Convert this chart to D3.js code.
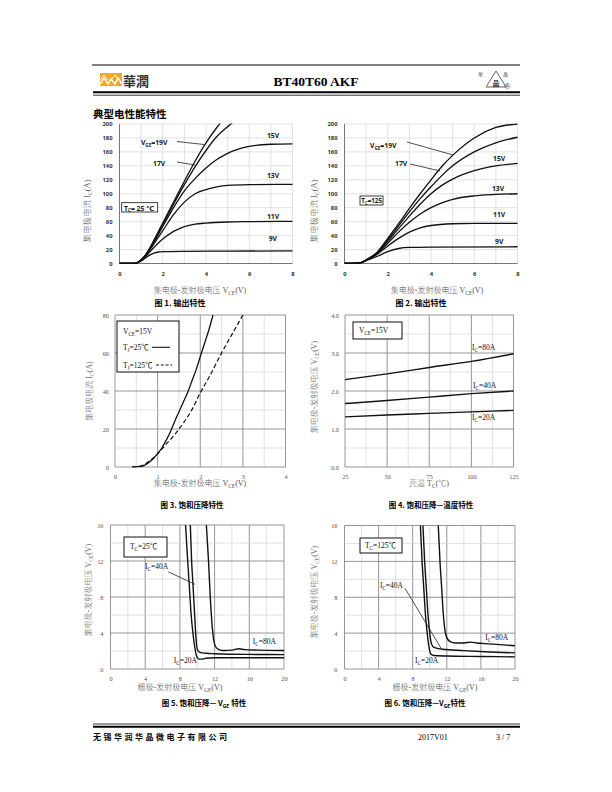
<!DOCTYPE html>
<html><head><meta charset="utf-8">
<script src="https://cdn.jsdelivr.net/npm/d3@7/dist/d3.min.js"></script>
<style>body{margin:0;background:#fff}svg{display:block}</style>
</head><body>
<svg id="page" width="612" height="792"></svg>
<script>
// ---------------- DATA ----------------
// Fig 1: output characteristics, Tc=25C  [VCE (V), IC (A)]
const fig1Names = ["9V","11V","13V","15V","17V","19V"];
const fig1_9V  = [[0,0],[0.6,0],[0.8,0.8],[1,3.5],[1.2,8],[1.4,12],[1.6,15],[1.8,16.5],[2,17],[3,17.5],[5,17.8],[8,18]];
const fig1_11V = [[0,0],[0.6,0],[0.8,1],[1,4.5],[1.2,10],[1.5,20],[2,35],[2.5,46],[3,53],[3.5,56.5],[4,58],[5,59.5],[6,60],[8,60.5]];
const fig1_13V = [[0,0],[0.6,0],[0.8,1],[1,5],[1.2,11],[1.5,24],[2,47],[2.5,70],[3,88],[3.5,100],[4,106],[4.5,110],[5,112],[6,113],[8,113.5]];
const fig1_15V = [[0,0],[0.6,0],[0.8,1],[1,5],[1.2,12],[1.5,26],[2,53],[2.5,80],[3,104],[3.5,122],[4,137],[4.5,149],[5,158],[6,168],[7,171],[8,171.5]];
const fig1_17V = [[0,0],[0.6,0],[0.8,1],[1,5],[1.2,12],[1.5,27],[2,56],[2.5,85],[3,113],[3.5,139],[4,162],[4.5,182],[5,196],[5.3,204]];
const fig1_19V = [[0,0],[0.6,0],[0.8,1],[1,5],[1.2,12],[1.5,28],[2,58],[2.5,88],[3,118],[3.5,147],[4,173],[4.5,195],[4.7,203]];
// Fig 2: output characteristics, Tc=125C
const fig2Names = ["9V","11V","13V","15V","17V","19V"];
const fig2_9V  = [[0,0],[0.6,0.5],[0.8,1.5],[1,4],[1.5,10],[2,17],[2.5,21.5],[3,23],[4,23.5],[8,24]];
const fig2_11V = [[0,0],[0.6,0.5],[0.8,1.5],[1,4.5],[1.5,13],[2,25],[2.5,36],[3,45],[3.5,51],[4,54.5],[5,57],[6,57.5],[8,57.5]];
const fig2_13V = [[0,0],[0.6,0.5],[0.8,1.5],[1,5],[1.5,14],[2,29],[2.5,45],[3,59],[3.5,71],[4,80],[4.5,87],[5,92],[6,97],[7,99],[8,100]];
const fig2_15V = [[0,0],[0.6,0.5],[0.8,1.5],[1,5],[1.5,15],[2,32],[2.5,50],[3,68],[3.5,85],[4,100],[4.5,112],[5,121],[6,133],[7,140],[8,143.5]];
const fig2_17V = [[0,0],[0.6,0.5],[0.8,1.5],[1,5],[1.5,15.5],[2,34],[2.5,54],[3,74],[3.5,93],[4,110],[4.5,126],[5,140],[6,160],[7,173],[8,181]];
const fig2_19V = [[0,0],[0.6,0.5],[0.8,1.5],[1,5],[1.5,16],[2,36],[2.5,57],[3,79],[3.5,100],[4,120],[4.5,139],[5,155],[6,180],[7,195],[8,200]];
// Fig 3: saturation characteristics, VGE=15V  [VCE, IC]
const fig3_25C  = [[0.4,0],[0.6,0.3],[0.7,1],[0.8,2.5],[0.9,4.5],[1.0,7],[1.1,10],[1.2,14],[1.3,18.5],[1.4,24],[1.5,29],[1.6,34],[1.7,39],[1.8,45],[1.9,51],[2.0,58],[2.1,65],[2.2,72],[2.3,80]];
const fig3_125C = [[0.4,0],[0.6,0.5],[0.8,3],[1.0,7],[1.2,12],[1.4,17],[1.5,20],[1.6,23],[1.8,30],[2.0,39],[2.2,47],[2.5,60],[2.8,72],[3.0,80]];
// Fig 4: VCE(sat) vs case temperature  [Tc, VCE]
const fig4Temps = [25,50,75,100,125];
const fig4_80A = [2.30,2.45,2.62,2.78,2.98];
const fig4_40A = [1.67,1.75,1.84,1.93,2.00];
const fig4_20A = [1.32,1.37,1.41,1.45,1.49];
// Fig 5: VCE vs VGE, Tc=25C  [VGE, VCE]
const fig5_20A = [[8.65,16],[8.9,12],[9.1,9],[9.3,6],[9.5,4],[9.7,2.5],[9.9,1.5],[10.2,1.1],[10.6,1.1],[11,1.2],[12,1.25],[20,1.25]];
const fig5_40A = [[9.2,16],[9.35,12],[9.5,9.5],[9.7,6],[9.85,3.5],[10,2.2],[10.3,1.85],[11,1.75],[12,1.7],[16,1.62],[20,1.6]];
const fig5_80A = [[11.05,16],[11.3,12],[11.5,8],[11.7,5],[11.9,3.2],[12.1,2.5],[12.5,2.15],[13,2.05],[14,2.1],[14.8,2.25],[15.5,2.15],[17,2.1],[20,2.05]];
// Fig 6: VCE vs VGE, Tc=125C
const fig6_20A = [[8.9,16],[9.1,12],[9.3,9],[9.5,6],[9.7,4],[9.9,2.5],[10.1,1.7],[10.5,1.5],[12,1.45],[16,1.4],[20,1.35]];
const fig6_40A = [[9.2,16],[9.4,12],[9.6,9],[9.8,6],[10,4],[10.2,2.8],[10.5,2.4],[11.5,2.2],[14,2.05],[17,1.9],[20,1.8]];
const fig6_80A = [[11.0,16],[11.2,12],[11.4,9],[11.6,6],[11.8,4.2],[12.0,3.5],[12.4,3.05],[13,2.9],[14,2.9],[14.8,3.0],[15.5,2.9],[17,2.8],[20,2.6]];
// tick labels
const ticksOutX = [0,2,4,6,8];
const ticksOutY = [0,20,40,60,80,100,120,140,160,180,200];
const ticksF3X = [0,1,2,3,4];
const ticksF3Y = [0,20,40,60,80];
const ticksF4X = [25,50,75,100,125];
const ticksF4Y = [0,1,2,3,4];
const ticksF56X = [0,4,8,12,16,20];
const ticksF56Y = [0,4,8,12,16];

// ---------------- HELPERS ----------------
const svg = d3.select("#page");
const SERIF = "'Liberation Serif','Times New Roman','Noto Sans CJK SC',serif";
const SANS = "'Open Sans','DejaVu Sans','Noto Sans CJK SC',sans-serif";
const CJK = "'Noto Sans CJK SC',sans-serif";

function rich(parent, x, y, str, o) {
  o = o || {};
  const fs = o.size || 8;
  const t = parent.append("text").attr("x", x).attr("y", y)
    .attr("font-size", fs).attr("font-family", o.family || SERIF)
    .attr("fill", o.fill || "#000").attr("font-weight", o.weight || "normal")
    .attr("text-anchor", o.anchor || "start");
  if (o.rotate) t.attr("transform", `rotate(${o.rotate},${x},${y})`);
  const parts = str.split(/(_\{[^}]*\})/).filter(p => p);
  let prevSub = false;
  parts.forEach(p => {
    if (p.startsWith("_{")) {
      t.append("tspan").attr("font-size", fs * 0.68).attr("dy", fs * 0.28).text(p.slice(2, -1));
      prevSub = true;
    } else {
      const ts = t.append("tspan").text(p);
      if (prevSub) ts.attr("dy", -fs * 0.28);
      prevSub = false;
    }
  });
  return t;
}

let clipId = 0;
function makeChart(o) {
  const g = svg.append("g");
  const x = d3.scaleLinear().domain(o.xd).range(o.xr);
  const y = d3.scaleLinear().domain(o.yd).range(o.yr);
  const eps = 1e-6;
  const isMaj = (v, step, base) => Math.abs(((v - base) / step) - Math.round((v - base) / step)) < 1e-4;
  d3.range(o.xd[0], o.xd[1] + eps, o.xMinor).forEach(v => {
    const maj = isMaj(v, o.xMajor, o.xd[0]);
    g.append("line").attr("x1", x(v)).attr("x2", x(v)).attr("y1", y(o.yd[0])).attr("y2", y(o.yd[1]))
      .attr("stroke", maj ? o.majColor : o.minColor).attr("stroke-width", maj ? o.majW : o.minW);
  });
  d3.range(o.yd[0], o.yd[1] + eps, o.yMinor).forEach(v => {
    const maj = isMaj(v, o.yMajor, o.yd[0]);
    g.append("line").attr("y1", y(v)).attr("y2", y(v)).attr("x1", x(o.xd[0])).attr("x2", x(o.xd[1]))
      .attr("stroke", maj ? o.majColor : o.minColor).attr("stroke-width", maj ? o.majW : o.minW);
  });
  if (o.axisColor) {
    g.append("line").attr("x1", x(o.xd[0])).attr("x2", x(o.xd[0])).attr("y1", y(o.yd[0])).attr("y2", y(o.yd[1]))
      .attr("stroke", o.axisColor).attr("stroke-width", 1);
    g.append("line").attr("x1", x(o.xd[0])).attr("x2", x(o.xd[1])).attr("y1", y(o.yd[0])).attr("y2", y(o.yd[0]))
      .attr("stroke", o.axisColor).attr("stroke-width", 1);
  }
  const ax = g.append("g").attr("transform", `translate(0,${y(o.yd[0])})`)
    .call(d3.axisBottom(x).tickValues(o.xTicks).tickSize(0).tickPadding(o.xPad).tickFormat(o.xFmt || d3.format("d")));
  const ay = g.append("g").attr("transform", `translate(${x(o.xd[0])},0)`)
    .call(d3.axisLeft(y).tickValues(o.yTicks).tickSize(0).tickPadding(o.yPad).tickFormat(o.yFmt || d3.format("d")));
  [ax, ay].forEach(a => {
    a.select(".domain").remove();
    a.selectAll("text").attr("font-family", o.tickFamily).attr("font-size", o.tickSize)
      .attr("font-weight", o.tickWeight || "normal").attr("fill", o.tickColor);
  });
  const id = "clip" + (clipId++);
  g.append("clipPath").attr("id", id).append("rect")
    .attr("x", x(o.xd[0])).attr("y", y(o.yd[1]) - 0.5)
    .attr("width", x(o.xd[1]) - x(o.xd[0]) + 1).attr("height", y(o.yd[0]) - y(o.yd[1]) + 1);
  const plot = g.append("g").attr("clip-path", `url(#${id})`);
  return { g, x, y, plot };
}

function drawCurve(c, data, w, dash) {
  const line = d3.line().x(d => c.x(d[0])).y(d => c.y(d[1])).curve(d3.curveMonotoneX);
  c.plot.append("path").datum(data).attr("d", line).attr("fill", "none")
    .attr("stroke", "#111").attr("stroke-width", w).attr("stroke-dasharray", dash || null)
    .attr("stroke-linejoin", "round");
}
function leader(c, a, b) {
  c.g.append("line").attr("x1", c.x(a[0])).attr("y1", c.y(a[1])).attr("x2", c.x(b[0])).attr("y2", c.y(b[1]))
    .attr("stroke", "#222").attr("stroke-width", 0.8);
}
function box(g, x0, y0, x1, y1, w) {
  g.append("rect").attr("x", x0).attr("y", y0).attr("width", x1 - x0).attr("height", y1 - y0)
    .attr("fill", "#fff").attr("stroke", "#111").attr("stroke-width", w || 1);
}
const titleOpt = (extra) => Object.assign({ size: 8, anchor: "middle", fill: "#666", weight: 300 }, extra || {});

// ---------------- HEADER ----------------
svg.append("line").attr("x1", 92).attr("x2", 520).attr("y1", 65).attr("y2", 65).attr("stroke", "#000").attr("stroke-width", 1);
svg.append("line").attr("x1", 93).attr("x2", 520).attr("y1", 92.3).attr("y2", 92.3).attr("stroke", "#000").attr("stroke-width", 2);
svg.append("line").attr("x1", 93).attr("x2", 520).attr("y1", 95.2).attr("y2", 95.2).attr("stroke", "#000").attr("stroke-width", 0.8);
const logo = svg.append("g");
logo.append("rect").attr("x", 100).attr("y", 73).attr("width", 22).attr("height", 13).attr("fill", "#f5a623");
logo.append("path").attr("d", "M100,84 L104,78 L108,84 L111,79 L115,84 L118,78 L122,84")
  .attr("fill", "none").attr("stroke", "#fff").attr("stroke-width", 1.4);
logo.append("path").attr("d", "M100,80 L104,75 L108,80 M111,80 L115,75 L119,80")
  .attr("fill", "none").attr("stroke", "#fff").attr("stroke-width", 1);
logo.append("text").attr("x", 123).attr("y", 86).attr("font-size", 13).attr("font-family", "'Noto Sans CJK TC',sans-serif")
  .attr("font-weight", "bold").attr("fill", "#333").text("華潤");
svg.append("text").attr("x", 316).attr("y", 86).attr("text-anchor", "middle").attr("font-family", SERIF)
  .attr("font-weight", "bold").attr("font-size", 13.5).text("BT40T60 AKF");
const rl = svg.append("g");
rl.append("path").attr("d", "M486,87 L496,71 L506,87 Z").attr("fill", "none").attr("stroke", "#555").attr("stroke-width", 0.9);
rl.append("text").attr("x", 496).attr("y", 85.5).attr("text-anchor", "middle").attr("font-size", 7)
  .attr("font-family", CJK).attr("font-weight", "bold").attr("fill", "#444").text("晶");
rl.append("text").attr("x", 478).attr("y", 76).attr("font-size", 5).attr("font-family", CJK).attr("fill", "#555").text("華");
rl.append("text").attr("x", 503).attr("y", 76).attr("font-size", 5).attr("font-family", CJK).attr("fill", "#555").text("晶");
rl.append("text").attr("x", 504).attr("y", 89).attr("font-size", 9).attr("font-family", SERIF).attr("fill", "#333").text("®");
svg.append("text").attr("x", 93).attr("y", 117.5).attr("font-size", 10.5).attr("font-family", CJK).attr("font-weight", "bold").text("典型电性能特性");

// ---------------- FIG 1 & 2 ----------------
const outStyle = {
  xMinor: 1, xMajor: 1, yMinor: 20, yMajor: 20, majColor: "#d9d9d9", minColor: "#d9d9d9", majW: 0.8, minW: 0.8,
  axisColor: "#777", xTicks: ticksOutX, yTicks: ticksOutY, xPad: 8, yPad: 7,
  tickFamily: SANS, tickSize: 5.8, tickWeight: "bold", tickColor: "#333"
};
function outChart(xr, curves) {
  const c = makeChart(Object.assign({ xd: [0, 8], xr: xr, yd: [0, 200], yr: [263.5, 124] }, outStyle));
  curves.forEach(d => drawCurve(c, d, 1.3));
  return c;
}
const lblOpt = { size: 6.8, family: SANS, weight: "bold", fill: "#222" };
// fig 1
const c1 = outChart([119.5, 292.5], [fig1_9V, fig1_11V, fig1_13V, fig1_15V, fig1_17V, fig1_19V]);
rich(c1.g, c1.x(0.99), c1.y(170), "V_{GE}=19V", lblOpt);
leader(c1, [2.66, 174.9], [3.91, 170.6]);
rich(c1.g, c1.x(1.55), c1.y(139.8), fig1Names[4], lblOpt);
leader(c1, [2.66, 145.5], [3.49, 141.2]);
rich(c1.g, c1.x(6.82), c1.y(180), fig1Names[3], lblOpt);
rich(c1.g, c1.x(6.82), c1.y(122.6), fig1Names[2], lblOpt);
rich(c1.g, c1.x(6.82), c1.y(63.8), fig1Names[1], lblOpt);
rich(c1.g, c1.x(6.9), c1.y(32.3), fig1Names[0], lblOpt);
box(c1.g, 121.7, 202.7, 157.7, 212, 0.8);
rich(c1.g, 124, 210.5, "T_{C}= 25 ℃", { size: 6.8, family: SANS, weight: "bold", fill: "#222" });
rich(svg, 200, 293, "集电极-发射极电压 V_{CE}(V)", titleOpt({ fill: "#555" }));
rich(svg, 90, 211, "集电极电流 I_{C}(A)", titleOpt({ size: 8.5, rotate: -90 }));
svg.append("text").attr("x", 180).attr("y", 306).attr("text-anchor", "middle").attr("font-size", 8)
  .attr("font-family", CJK).attr("font-weight", "bold").text("图 1. 输出特性");
// fig 2
const c2 = outChart([344.5, 517.5], [fig2_9V, fig2_11V, fig2_13V, fig2_15V, fig2_17V, fig2_19V]);
rich(c2.g, c2.x(1.18), c2.y(165.6), "V_{GE}=19V", lblOpt);
leader(c2, [2.89, 174.2], [5.02, 155.6]);
rich(c2.g, c2.x(2.34), c2.y(139.8), fig2Names[4], lblOpt);
leader(c2, [3.03, 142.7], [4.42, 132.6]);
rich(c2.g, c2.x(6.87), c2.y(147), fig2Names[3], lblOpt);
rich(c2.g, c2.x(6.82), c2.y(104), fig2Names[2], lblOpt);
rich(c2.g, c2.x(6.87), c2.y(66.7), fig2Names[1], lblOpt);
rich(c2.g, c2.x(6.96), c2.y(28), fig2Names[0], lblOpt);
box(c2.g, 360, 196, 383, 205, 0.8);
rich(c2.g, 361.3, 203.3, "T_{C}=125", { size: 6.3, family: SANS, weight: "bold", fill: "#222" });
rich(svg, 437, 293, "集电极-发射极电压 V_{CE}(V)", titleOpt({ fill: "#555" }));
rich(svg, 317, 211, "集电极电流 I_{C}(A)", titleOpt({ size: 8.5, rotate: -90 }));
svg.append("text").attr("x", 421).attr("y", 306).attr("text-anchor", "middle").attr("font-size", 8)
  .attr("font-family", CJK).attr("font-weight", "bold").text("图 2. 输出特性");

// ---------------- FIG 3-6 ----------------
const gridStyle = { majColor: "#8a8a8a", minColor: "#d4d4d4", majW: 0.9, minW: 0.7, tickFamily: SERIF, tickSize: 6.3, tickColor: "#555" };

// fig 3
const c3 = makeChart(Object.assign({ xd: [0, 4], xr: [115, 285.5], yd: [0, 80], yr: [467, 315],
  xMinor: 0.5, xMajor: 1, yMinor: 10, yMajor: 20, xTicks: ticksF3X, yTicks: ticksF3Y, xPad: 8, yPad: 6 }, gridStyle));
drawCurve(c3, fig3_25C, 1.3);
drawCurve(c3, fig3_125C, 1.2, "4.5,2.5");
box(c3.g, 117, 321, 179, 372, 1);
rich(c3.g, 123, 334, "V_{CE}=15V", { size: 7.5, fill: "#111" });
rich(c3.g, 123, 350, "T_{J}=25℃", { size: 7.5, fill: "#111" });
c3.g.append("line").attr("x1", 152).attr("x2", 170).attr("y1", 347.3).attr("y2", 347.3).attr("stroke", "#111").attr("stroke-width", 1.1);
rich(c3.g, 123, 367.5, "T_{J}=125℃", { size: 7.5, fill: "#111" });
c3.g.append("line").attr("x1", 156).attr("x2", 172).attr("y1", 365).attr("y2", 365).attr("stroke", "#111").attr("stroke-width", 1.1).attr("stroke-dasharray", "3,1.8");
rich(svg, 200, 486, "集电极-发射极电压 V_{CE}(V)", titleOpt({ fill: "#555" }));
rich(svg, 92, 391, "集电极电流 I_{C}(A)", titleOpt({ rotate: -90 }));
svg.append("text").attr("x", 192).attr("y", 508).attr("text-anchor", "middle").attr("font-size", 7.5)
  .attr("font-family", CJK).attr("font-weight", "bold").text("图 3. 饱和压降特性");

// fig 4
const c4 = makeChart(Object.assign({ xd: [25, 125], xr: [345, 513.5], yd: [0, 4], yr: [467, 315],
  xMinor: 12.5, xMajor: 25, yMinor: 0.5, yMajor: 1, xTicks: ticksF4X, yTicks: ticksF4Y, xPad: 8, yPad: 6,
  yFmt: d3.format(".1f") }, gridStyle));
[fig4_80A, fig4_40A, fig4_20A].forEach(s => drawCurve(c4, fig4Temps.map((t, i) => [t, s[i]]), 1.4));
box(c4.g, 353, 322, 402, 339, 1);
rich(c4.g, 359, 333, "V_{CE}=15V", { size: 7.5, fill: "#111" });
rich(c4.g, c4.x(100.4), c4.y(3.08), "I_{C}=80A", { size: 7.5, fill: "#111" });
rich(c4.g, c4.x(101), c4.y(2.08), "I_{C}=40A", { size: 7.5, fill: "#111" });
rich(c4.g, c4.x(100.4), c4.y(1.24), "I_{C}=20A", { size: 7.5, fill: "#111" });
rich(svg, 429, 486, "壳温 T_{C}(℃)", titleOpt({ fill: "#555" }));
rich(svg, 317, 387, "集电极-发射极电压 V_{CE}(V)", titleOpt({ rotate: -90 }));
svg.append("text").attr("x", 431).attr("y", 508).attr("text-anchor", "middle").attr("font-size", 7.5)
  .attr("font-family", CJK).attr("font-weight", "bold").text("图 4. 饱和压降—温度特性");

// fig 5
const c5 = makeChart(Object.assign({ xd: [0, 20], xr: [110.5, 284], yd: [0, 16], yr: [669, 525],
  xMinor: 2, xMajor: 4, yMinor: 2, yMajor: 4, xTicks: ticksF56X, yTicks: ticksF56Y, xPad: 8, yPad: 7 }, gridStyle));
[fig5_20A, fig5_40A, fig5_80A].forEach(s => drawCurve(c5, s, 1.4));
box(c5.g, 124, 537, 167, 557, 1);
rich(c5.g, 130, 549, "T_{C}=25℃", { size: 7.5, fill: "#111" });
rich(c5.g, c5.x(3.98), c5.y(11.1), "I_{C}=40A", { size: 7.5, fill: "#111" });
leader(c5, [6.66, 10.8], [9.74, 9.41]);
rich(c5.g, c5.x(16.4), c5.y(2.78), "I_{C}=80A", { size: 7.5, fill: "#111" });
rich(c5.g, c5.x(7.3), c5.y(0.67), "I_{C}=20A", { size: 7.5, fill: "#111" });
rich(svg, 180, 690, "栅极-发射极电压 V_{GE}(V)", titleOpt({ fill: "#555" }));
rich(svg, 91, 590, "集电极-发射极电压 V_{CE}(V)", titleOpt({ rotate: -90 }));
rich(svg, 204, 706, "图 5. 饱和压降— V_{GE} 特性", { size: 7.5, anchor: "middle", family: CJK, weight: "bold" });

// fig 6
const c6 = makeChart(Object.assign({ xd: [0, 20], xr: [344.5, 515], yd: [0, 16], yr: [669, 525.5],
  xMinor: 2, xMajor: 4, yMinor: 2, yMajor: 4, xTicks: ticksF56X, yTicks: ticksF56Y, xPad: 8, yPad: 7 }, gridStyle));
[fig6_20A, fig6_40A, fig6_80A].forEach(s => drawCurve(c6, s, 1.4));
box(c6.g, 360, 538, 402, 553, 1);
rich(c6.g, 365, 547.5, "T_{C}=125℃", { size: 7.5, fill: "#111" });
rich(c6.g, c6.x(4.16), c6.y(9.03), "I_{C}=40A", { size: 7.5, fill: "#111" });
leader(c6, [7.1, 9.0], [11.4, 2.2]);
rich(c6.g, c6.x(16.5), c6.y(3.23), "I_{C}=80A", { size: 7.5, fill: "#111" });
rich(c6.g, c6.x(8.27), c6.y(0.67), "I_{C}=20A", { size: 7.5, fill: "#111" });
rich(svg, 435, 690, "栅极-发射极电压 V_{GE}(V)", titleOpt({ fill: "#555" }));
rich(svg, 317, 592, "集电极-发射极电压 V_{CE}(V)", titleOpt({ rotate: -90 }));
rich(svg, 425, 706, "图 6. 饱和压降—V_{GE}特性", { size: 7.5, anchor: "middle", family: CJK, weight: "bold" });

// ---------------- FOOTER ----------------
svg.append("line").attr("x1", 93).attr("x2", 520).attr("y1", 724).attr("y2", 724).attr("stroke", "#000").attr("stroke-width", 0.8);
svg.append("line").attr("x1", 93).attr("x2", 520).attr("y1", 726.8).attr("y2", 726.8).attr("stroke", "#000").attr("stroke-width", 2);
svg.append("text").attr("x", 93).attr("y", 740).attr("font-size", 8).attr("font-family", CJK).attr("font-weight", "bold")
  .attr("letter-spacing", 2.5).text("无锡华润华晶微电子有限公司");
svg.append("text").attr("x", 418).attr("y", 740).attr("font-size", 8).attr("font-family", SERIF).text("2017V01");
svg.append("text").attr("x", 496).attr("y", 740).attr("font-size", 8).attr("font-family", SERIF).text("3 / 7");
</script>
</body></html>
